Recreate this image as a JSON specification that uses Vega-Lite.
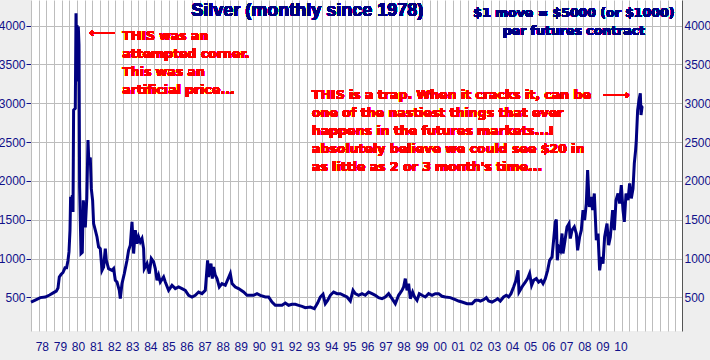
{
  "$schema": "https://vega.github.io/schema/vega-lite/v6.json",
  "width": 651,
  "height": 331,
  "autosize": "none",
  "padding": {"left": 31, "top": 0, "right": 28, "bottom": 29},
  "background": "#eeeeee",
  "view": {"fill": "white", "stroke": null},
  "config": {"axis": {"labelFont": "Liberation Sans", "labelFontSize": 12, "labelColor": "#10108a"}},
  "datasets": {
    "silver": [
      {"year":1977.400,"price":439},{"year":1977.638,"price":465},{"year":1977.914,"price":496},{"year":1978.191,"price":504},{"year":1978.429,"price":530},{"year":1978.650,"price":560},{"year":1978.799,"price":580},{"year":1978.893,"price":620},{"year":1978.965,"price":762},{"year":1979.059,"price":793},{"year":1979.170,"price":820},{"year":1979.280,"price":880},{"year":1979.369,"price":880},{"year":1979.446,"price":977},{"year":1979.501,"price":1085},{"year":1979.557,"price":1365},{"year":1979.590,"price":1794},{"year":1979.645,"price":1665},{"year":1979.684,"price":1816},{"year":1979.723,"price":1600},{"year":1979.756,"price":2913},{"year":1979.850,"price":2935},{"year":1979.889,"price":4161},{"year":1979.922,"price":3280},{"year":1979.944,"price":4010},{"year":1979.977,"price":3280},{"year":1980.016,"price":3990},{"year":1980.054,"price":3750},{"year":1980.088,"price":1923},{"year":1980.126,"price":1500},{"year":1980.165,"price":1064},{"year":1980.237,"price":1080},{"year":1980.292,"price":1750},{"year":1980.348,"price":1600},{"year":1980.403,"price":1400},{"year":1980.486,"price":1780},{"year":1980.552,"price":2526},{"year":1980.596,"price":2250},{"year":1980.679,"price":2300},{"year":1980.735,"price":1900},{"year":1980.807,"price":1750},{"year":1980.862,"price":1451},{"year":1980.956,"price":1365},{"year":1981.050,"price":1278},{"year":1981.138,"price":1149},{"year":1981.232,"price":1128},{"year":1981.326,"price":848},{"year":1981.415,"price":891},{"year":1981.509,"price":1128},{"year":1981.564,"price":977},{"year":1981.691,"price":870},{"year":1981.879,"price":848},{"year":1981.968,"price":870},{"year":1982.062,"price":719},{"year":1982.156,"price":697},{"year":1982.283,"price":590},{"year":1982.338,"price":483},{"year":1982.432,"price":677},{"year":1982.560,"price":806},{"year":1982.709,"price":977},{"year":1982.797,"price":1106},{"year":1982.891,"price":1171},{"year":1982.985,"price":1472},{"year":1983.074,"price":1064},{"year":1983.168,"price":1365},{"year":1983.262,"price":1193},{"year":1983.350,"price":1278},{"year":1983.444,"price":1214},{"year":1983.538,"price":1257},{"year":1983.627,"price":1128},{"year":1983.666,"price":870},{"year":1983.815,"price":935},{"year":1983.942,"price":806},{"year":1984.053,"price":999},{"year":1984.180,"price":956},{"year":1984.274,"price":870},{"year":1984.368,"price":719},{"year":1984.456,"price":784},{"year":1984.550,"price":697},{"year":1984.733,"price":762},{"year":1984.827,"price":697},{"year":1985.009,"price":590},{"year":1985.197,"price":655},{"year":1985.380,"price":612},{"year":1985.562,"price":633},{"year":1985.750,"price":612},{"year":1985.933,"price":590},{"year":1986.115,"price":526},{"year":1986.303,"price":504},{"year":1986.486,"price":526},{"year":1986.668,"price":568},{"year":1986.856,"price":547},{"year":1987.039,"price":590},{"year":1987.166,"price":977},{"year":1987.221,"price":762},{"year":1987.354,"price":935},{"year":1987.426,"price":741},{"year":1987.498,"price":891},{"year":1987.592,"price":784},{"year":1987.686,"price":741},{"year":1987.813,"price":633},{"year":1987.962,"price":677},{"year":1988.145,"price":655},{"year":1988.421,"price":806},{"year":1988.516,"price":677},{"year":1988.698,"price":633},{"year":1988.880,"price":612},{"year":1989.157,"price":568},{"year":1989.345,"price":526},{"year":1989.710,"price":526},{"year":1989.898,"price":547},{"year":1990.081,"price":526},{"year":1990.357,"price":504},{"year":1990.540,"price":504},{"year":1990.728,"price":439},{"year":1990.910,"price":397},{"year":1991.092,"price":397},{"year":1991.281,"price":397},{"year":1991.463,"price":426},{"year":1991.646,"price":397},{"year":1991.834,"price":410},{"year":1992.016,"price":410},{"year":1992.199,"price":397},{"year":1992.387,"price":384},{"year":1992.569,"price":367},{"year":1992.846,"price":375},{"year":1993.067,"price":354},{"year":1993.249,"price":426},{"year":1993.399,"price":504},{"year":1993.548,"price":539},{"year":1993.675,"price":418},{"year":1993.802,"price":461},{"year":1993.951,"price":526},{"year":1994.134,"price":568},{"year":1994.322,"price":547},{"year":1994.505,"price":547},{"year":1994.687,"price":526},{"year":1994.875,"price":504},{"year":1995.058,"price":452},{"year":1995.207,"price":590},{"year":1995.334,"price":547},{"year":1995.516,"price":526},{"year":1995.705,"price":547},{"year":1995.887,"price":526},{"year":1996.070,"price":568},{"year":1996.258,"price":547},{"year":1996.440,"price":526},{"year":1996.623,"price":496},{"year":1996.811,"price":483},{"year":1996.993,"price":504},{"year":1997.176,"price":547},{"year":1997.364,"price":483},{"year":1997.546,"price":418},{"year":1997.729,"price":526},{"year":1997.917,"price":590},{"year":1998.005,"price":633},{"year":1998.099,"price":741},{"year":1998.193,"price":590},{"year":1998.282,"price":677},{"year":1998.376,"price":483},{"year":1998.503,"price":568},{"year":1998.613,"price":504},{"year":1998.746,"price":461},{"year":1998.873,"price":547},{"year":1999.023,"price":526},{"year":1999.205,"price":504},{"year":1999.388,"price":547},{"year":1999.576,"price":526},{"year":1999.758,"price":547},{"year":1999.941,"price":547},{"year":2000.129,"price":513},{"year":2000.311,"price":504},{"year":2000.588,"price":496},{"year":2000.864,"price":470},{"year":2001.047,"price":452},{"year":2001.235,"price":439},{"year":2001.511,"price":418},{"year":2001.788,"price":418},{"year":2001.970,"price":461},{"year":2002.153,"price":461},{"year":2002.247,"price":452},{"year":2002.429,"price":470},{"year":2002.579,"price":496},{"year":2002.706,"price":452},{"year":2002.894,"price":439},{"year":2003.076,"price":461},{"year":2003.204,"price":483},{"year":2003.353,"price":452},{"year":2003.535,"price":504},{"year":2003.684,"price":526},{"year":2003.812,"price":504},{"year":2003.944,"price":547},{"year":2004.088,"price":633},{"year":2004.221,"price":719},{"year":2004.332,"price":848},{"year":2004.387,"price":568},{"year":2004.497,"price":612},{"year":2004.608,"price":655},{"year":2004.735,"price":697},{"year":2004.862,"price":741},{"year":2004.973,"price":806},{"year":2005.084,"price":655},{"year":2005.194,"price":719},{"year":2005.344,"price":741},{"year":2005.471,"price":697},{"year":2005.604,"price":719},{"year":2005.714,"price":677},{"year":2005.841,"price":741},{"year":2005.969,"price":848},{"year":2006.079,"price":977},{"year":2006.212,"price":1020},{"year":2006.300,"price":1236},{"year":2006.394,"price":1472},{"year":2006.450,"price":1502},{"year":2006.505,"price":977},{"year":2006.577,"price":1149},{"year":2006.671,"price":1106},{"year":2006.765,"price":1322},{"year":2006.820,"price":1064},{"year":2006.931,"price":1236},{"year":2007.041,"price":1407},{"year":2007.152,"price":1451},{"year":2007.224,"price":1257},{"year":2007.318,"price":1365},{"year":2007.445,"price":1407},{"year":2007.556,"price":1322},{"year":2007.628,"price":1106},{"year":2007.738,"price":1278},{"year":2007.832,"price":1365},{"year":2007.926,"price":1623},{"year":2008.015,"price":1494},{"year":2008.109,"price":1709},{"year":2008.181,"price":2140},{"year":2008.275,"price":1665},{"year":2008.369,"price":1794},{"year":2008.457,"price":1623},{"year":2008.551,"price":1838},{"year":2008.662,"price":1236},{"year":2008.756,"price":1322},{"year":2008.845,"price":848},{"year":2008.939,"price":1020},{"year":2009.032,"price":935},{"year":2009.121,"price":1278},{"year":2009.253,"price":1451},{"year":2009.342,"price":1171},{"year":2009.436,"price":1278},{"year":2009.563,"price":1623},{"year":2009.657,"price":1365},{"year":2009.751,"price":1752},{"year":2009.862,"price":1838},{"year":2009.950,"price":1709},{"year":2010.044,"price":1945},{"year":2010.138,"price":1623},{"year":2010.210,"price":1472},{"year":2010.304,"price":1838},{"year":2010.415,"price":1752},{"year":2010.503,"price":1967},{"year":2010.597,"price":1774},{"year":2010.691,"price":1902},{"year":2010.763,"price":2225},{"year":2010.835,"price":2397},{"year":2010.874,"price":2526},{"year":2010.947,"price":2913},{"year":2011.023,"price":3042},{"year":2011.095,"price":3128},{"year":2011.134,"price":2849},{"year":2011.190,"price":2956},{"year":2011.244,"price":2965}
    ]
  },
  "data": {"name": "silver"},
  "resolve": {"axis": {"x": "independent", "y": "independent"}},
  "layer": [
    {
      "mark": {"type": "rule", "opacity": 0},
      "encoding": {
        "x": {
          "field": "year", "type": "quantitative",
          "scale": {"domain": [1977.4, 2013.4], "nice": false, "zero": false},
          "axis": {
            "title": null, "orient": "top", "domain": false, "ticks": false, "labels": false,
            "grid": true, "gridColor": "#bdbdbd", "gridWidth": 1,
            "values": [1977.824,1978.248,1978.672,1979.096,1979.521,1979.945,1980.369,1980.793,1981.217,1981.641,1982.065,1982.489,1982.913,1983.337,1983.762,1984.186,1984.610,1985.034,1985.458,1985.882,1986.306,1986.730,1987.154,1987.578,1988.003,1988.427,1988.851,1989.275,1989.699,1990.123,1990.547,1990.971,1991.395,1991.819,1992.244,1992.668,1993.092,1993.516,1993.940,1994.364,1994.788,1995.212,1995.636,1996.060,1996.485,1996.909,1997.333,1997.757,1998.181,1998.605,1999.029,1999.453,1999.877,2000.301,2000.726,2001.150,2001.574,2001.998,2002.422,2002.846,2003.270,2003.694,2004.118,2004.542,2004.967,2005.391,2005.815,2006.239,2006.663,2007.087,2007.511,2007.935,2008.359,2008.783,2009.208,2009.632,2010.056,2010.480,2010.904,2011.328,2011.752,2012.176,2012.600,2013.024]
          }
        }
      }
    },
    {
      "mark": {"type": "line", "color": "#000080", "strokeWidth": 3, "strokeJoin": "miter", "strokeCap": "butt"},
      "encoding": {
        "x": {
          "field": "year", "type": "quantitative",
          "axis": {
            "title": null, "orient": "bottom", "domain": false, "ticks": false, "grid": false,
            "labelPadding": 10, "labelOverlap": false, "labelFlush": false, "format": "d",
            "labelExpr": "slice(datum.label, 2)",
            "values": [1978,1979,1980,1981,1982,1983,1984,1985,1986,1987,1988,1989,1990,1991,1992,1993,1994,1995,1996,1997,1998,1999,2000,2001,2002,2003,2004,2005,2006,2007,2008,2009,2010]
          }
        },
        "y": {
          "field": "price", "type": "quantitative",
          "scale": {"domain": [66, 4331], "nice": false, "zero": false},
          "axis": {
            "title": null, "orient": "left", "values": [500,1000,1500,2000,2500,3000,3500,4000], "format": "d",
            "grid": true, "gridColor": "#bdbdbd", "domainColor": "#bdbdbd",
            "tickColor": "#10108a", "tickSize": 5, "labelPadding": 1
          }
        }
      }
    },
    {
      "mark": {"type": "rule", "opacity": 0},
      "encoding": {
        "y": {
          "field": "price", "type": "quantitative",
          "axis": {
            "title": null, "orient": "right", "values": [500,1000,1500,2000,2500,3000,3500,4000], "format": "d",
            "grid": false, "ticks": false, "domainColor": "#555555", "labelPadding": 2
          }
        }
      }
    },
    {
      "mark": {"type": "text", "font": "Liberation Sans", "fontWeight": "bold", "fontSize": 18, "color": "#000080", "align": "center", "baseline": "alphabetic"},
      "encoding": {
        "x": {"datum": 1992.68, "type": "quantitative", "axis": null},
        "y": {"datum": 4120, "type": "quantitative", "axis": null},
        "text": {"value": "Silver (monthly since 1978)"}
      }
    },
    {
      "mark": {"type": "text", "font": "DejaVu Sans", "fontWeight": "bold", "fontSize": 12.5, "lineHeight": 18.3, "color": "#000080", "align": "center", "baseline": "alphabetic"},
      "encoding": {
        "x": {"datum": 2007.42, "type": "quantitative", "axis": null},
        "y": {"datum": 4110, "type": "quantitative", "axis": null},
        "text": {"value": ["$1 move = $5000 (or $1000)", "per futures contract"]}
      }
    },
    {
      "mark": {"type": "text", "font": "DejaVu Sans", "fontWeight": "bold", "fontSize": 12.5, "lineHeight": 18.1, "color": "#ff0000", "align": "left", "baseline": "alphabetic"},
      "encoding": {
        "x": {"datum": 1982.45, "type": "quantitative", "axis": null},
        "y": {"datum": 3813, "type": "quantitative", "axis": null},
        "text": {"value": ["THIS was an", "attempted corner.", "This was an", "artificial price..."]}
      }
    },
    {
      "mark": {"type": "text", "font": "DejaVu Sans", "fontWeight": "bold", "fontSize": 12.5, "color": "#ff0000", "align": "left", "baseline": "alphabetic"},
      "encoding": {
        "x": {"datum": 1980.62, "type": "quantitative", "axis": null},
        "y": {"datum": 3850, "type": "quantitative", "axis": null},
        "text": {"value": "←---"}
      }
    },
    {
      "mark": {"type": "text", "font": "DejaVu Sans", "fontWeight": "bold", "fontSize": 12.5, "lineHeight": 18, "color": "#ff0000", "align": "left", "baseline": "alphabetic"},
      "encoding": {
        "x": {"datum": 1992.94, "type": "quantitative", "axis": null},
        "y": {"datum": 3061, "type": "quantitative", "axis": null},
        "text": {"value": ["THIS is a trap. When it cracks it, can be", "one of the nastiest things that ever", "happens in the futures markets...I", "absolutely believe we could see $20 in", "as little as 2 or 3 month's time..."]}
      }
    },
    {
      "mark": {"type": "text", "font": "DejaVu Sans", "fontWeight": "bold", "fontSize": 12.5, "color": "#ff0000", "align": "left", "baseline": "alphabetic"},
      "encoding": {
        "x": {"datum": 2009.05, "type": "quantitative", "axis": null},
        "y": {"datum": 3061, "type": "quantitative", "axis": null},
        "text": {"value": "---→"}
      }
    }
  ]
}
